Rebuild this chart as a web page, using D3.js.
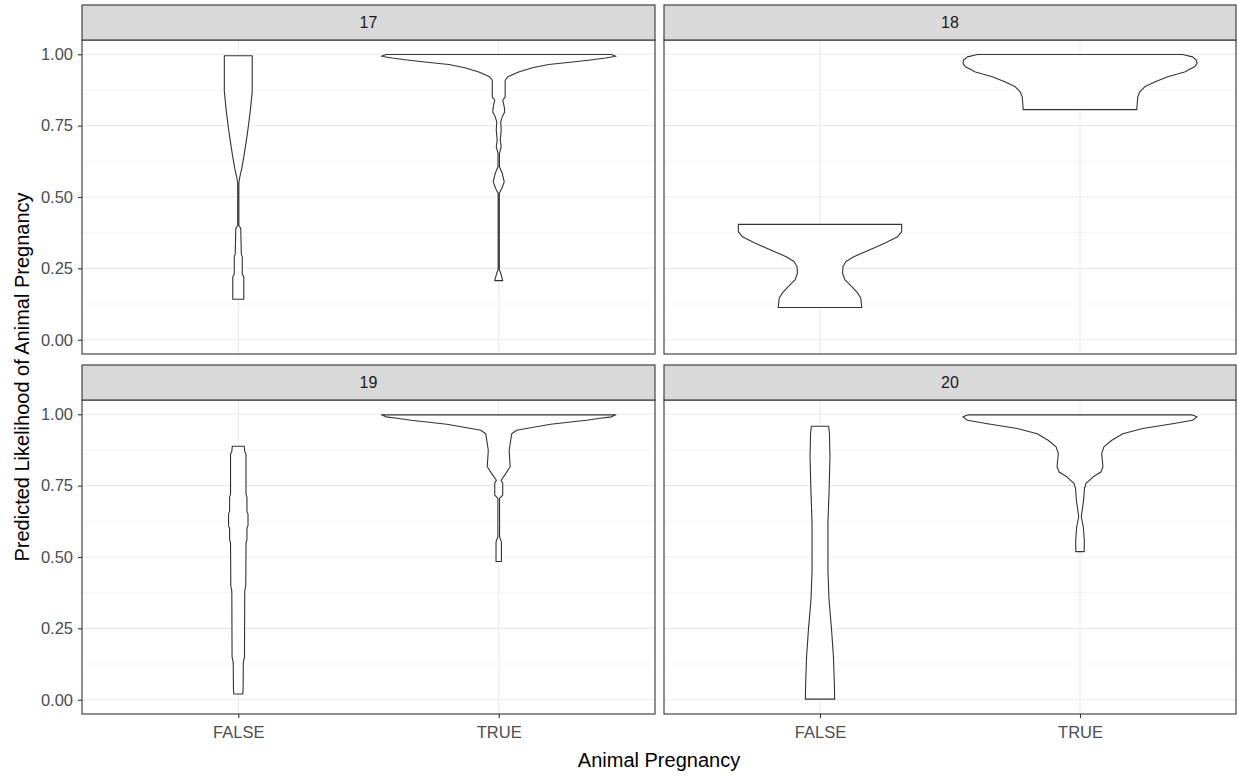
<!DOCTYPE html>
<html>
<head>
<meta charset="utf-8">
<script src="https://cdn.jsdelivr.net/npm/d3@7"></script>
<style>
    body { margin: 0; background: #fff; }
    text { font-family: "Liberation Sans", Arial, sans-serif; }
</style>
</head>
<body>
<svg id="chart"></svg>
<script>
// facet labels and categories
const facets = ["17", "18", "19", "20"];
const groups = ["FALSE", "TRUE"];
const yTicks = [0, 0.25, 0.5, 0.75, 1];

// violin outlines: [predicted likelihood, scaled density (1 = widest)]
const v17False = [[0.995, 0.119], [0.87, 0.119], [0.80, 0.102], [0.72, 0.077], [0.65, 0.051], [0.60, 0.030],
    [0.57, 0.013], [0.55, 0.005], [0.40, 0.005], [0.39, 0.021], [0.30, 0.026], [0.29, 0.034], [0.23, 0.034],
    [0.22, 0.047], [0.142, 0.047]];
const v17True = [[0.999, 0.96], [0.993, 1.0], [0.987, 0.911], [0.981, 0.80], [0.973, 0.63], [0.964, 0.426],
    [0.953, 0.289], [0.938, 0.170], [0.921, 0.077], [0.909, 0.055], [0.851, 0.055], [0.839, 0.034],
    [0.816, 0.047], [0.798, 0.051], [0.781, 0.030], [0.763, 0.017], [0.734, 0.021], [0.699, 0.013],
    [0.676, 0.021], [0.653, 0.006], [0.606, 0.006], [0.583, 0.030], [0.553, 0.047], [0.530, 0.026],
    [0.513, 0.005], [0.245, 0.005], [0.233, 0.017], [0.207, 0.034]];
const v18False = [[0.404, 0.698], [0.379, 0.698], [0.361, 0.664], [0.338, 0.553], [0.315, 0.426], [0.291, 0.289],
    [0.274, 0.221], [0.256, 0.196], [0.233, 0.193], [0.210, 0.213], [0.186, 0.272], [0.163, 0.323],
    [0.145, 0.349], [0.113, 0.357]];
const v18True = [[0.999, 0.877], [0.991, 0.962], [0.979, 0.996], [0.967, 1.0], [0.956, 0.979], [0.938, 0.894],
    [0.921, 0.749], [0.903, 0.638], [0.886, 0.553], [0.868, 0.511], [0.851, 0.494], [0.806, 0.485]];
const v19False = [[0.888, 0.051], [0.87, 0.055], [0.86, 0.066], [0.72, 0.066], [0.71, 0.074], [0.66, 0.074],
    [0.65, 0.083], [0.61, 0.083], [0.60, 0.074], [0.56, 0.074], [0.55, 0.066], [0.40, 0.064], [0.38, 0.055],
    [0.15, 0.053], [0.13, 0.043], [0.035, 0.041], [0.02, 0.038]];
const v19True = [[0.998, 1.0], [0.991, 0.962], [0.985, 0.851], [0.979, 0.749], [0.973, 0.613], [0.965, 0.443],
    [0.953, 0.272], [0.944, 0.153], [0.932, 0.111], [0.874, 0.089], [0.816, 0.098], [0.787, 0.051],
    [0.769, 0.020], [0.758, 0.034], [0.717, 0.034], [0.705, 0.007], [0.571, 0.007], [0.553, 0.023],
    [0.484, 0.023]];
const v20False = [[0.958, 0.074], [0.93, 0.081], [0.85, 0.085], [0.75, 0.079], [0.62, 0.068], [0.45, 0.068],
    [0.35, 0.077], [0.25, 0.098], [0.15, 0.115], [0.05, 0.123], [0.002, 0.125]];
const v20True = [[0.998, 0.953], [0.991, 1.0], [0.979, 0.962], [0.967, 0.791], [0.950, 0.536], [0.932, 0.366],
    [0.909, 0.272], [0.886, 0.204], [0.862, 0.185], [0.839, 0.191], [0.816, 0.196], [0.798, 0.179],
    [0.781, 0.113], [0.758, 0.051], [0.740, 0.038], [0.699, 0.031], [0.641, 0.011], [0.606, 0.028],
    [0.559, 0.037], [0.519, 0.036]];

const violins = [
    [v17False, v17True],
    [v18False, v18True],
    [v19False, v19True],
    [v20False, v20True]
];

const W = 1238, H = 776;
const svg = d3.select("#chart").attr("width", W).attr("height", H);

// panel boxes (plot area, strip above)
const cols = [[82, 655], [664, 1236]];
const rows = [[40, 354], [400, 714]];
const stripH = 35;

// discrete x: positions 1,2 with 0.6 expansion
const x = d3.scaleLinear().domain([0.4, 2.6]);
const y = d3.scaleLinear().domain([-0.05, 1.05]);
const halfMax = 0.45;

facets.forEach((f, i) => {
    const c = cols[i % 2], r = rows[Math.floor(i / 2)];
    x.range(c);
    y.range([r[1], r[0]]);

    const g = svg.append("g");

    // minor grid
    const minor = d3.range(0.125, 1, 0.25);
    g.selectAll(".minor").data(minor).enter().append("line")
        .attr("x1", c[0]).attr("x2", c[1])
        .attr("y1", d => y(d)).attr("y2", d => y(d))
        .style("stroke", "#F2F2F2").style("stroke-width", 0.8);

    // major grid
    g.selectAll(".majory").data(yTicks).enter().append("line")
        .attr("x1", c[0]).attr("x2", c[1])
        .attr("y1", d => y(d)).attr("y2", d => y(d))
        .style("stroke", "#EBEBEB").style("stroke-width", 1.1);
    g.selectAll(".majorx").data(groups).enter().append("line")
        .attr("x1", (d, k) => x(k + 1)).attr("x2", (d, k) => x(k + 1))
        .attr("y1", r[0]).attr("y2", r[1])
        .style("stroke", "#EBEBEB").style("stroke-width", 1.1);

    // violins
    violins[i].forEach((prof, k) => {
        const pos = k + 1;
        const right = prof.map(p => [x(pos + p[1] * halfMax), y(p[0])]);
        const left = prof.slice().reverse().map(p => [x(pos - p[1] * halfMax), y(p[0])]);
        g.append("path")
            .attr("d", d3.line()(right.concat(left)) + "Z")
            .style("fill", "white")
            .style("stroke", "#333333")
            .style("stroke-width", 1.1)
            .style("stroke-linejoin", "round");
    });

    // panel border
    g.append("rect")
        .attr("x", c[0]).attr("y", r[0])
        .attr("width", c[1] - c[0]).attr("height", r[1] - r[0])
        .style("fill", "none").style("stroke", "#333333").style("stroke-width", 1.1);

    // strip
    g.append("rect")
        .attr("x", c[0]).attr("y", r[0] - stripH)
        .attr("width", c[1] - c[0]).attr("height", stripH)
        .style("fill", "#D9D9D9").style("stroke", "#333333").style("stroke-width", 1.1);
    g.append("text")
        .attr("x", (c[0] + c[1]) / 2).attr("y", r[0] - stripH / 2)
        .attr("text-anchor", "middle").attr("dominant-baseline", "central")
        .style("font-size", "16px").style("fill", "#1A1A1A")
        .text(f);

    // y axis on left column
    if (i % 2 === 0) {
        const ya = g.append("g")
            .attr("transform", `translate(${c[0]},0)`)
            .call(d3.axisLeft(y).tickValues(yTicks).tickFormat(d3.format(".2f")).tickSize(4).tickPadding(5));
        ya.select(".domain").remove();
        ya.selectAll("line").style("stroke", "#333333").style("stroke-width", 1.1);
        ya.selectAll("text").style("font-size", "16.5px").style("fill", "#4D4D4D")
            .style("font-family", "Liberation Sans, Arial, sans-serif");
    }

    // x axis on bottom row
    if (i >= 2) {
        const xa = g.append("g")
            .attr("transform", `translate(0,${r[1]})`)
            .call(d3.axisBottom(x).tickValues([1, 2]).tickFormat(d => groups[d - 1]).tickSize(4).tickPadding(8));
        xa.select(".domain").remove();
        xa.selectAll("line").style("stroke", "#333333").style("stroke-width", 1.1);
        xa.selectAll("text").style("font-size", "16.5px").style("fill", "#4D4D4D")
            .style("font-family", "Liberation Sans, Arial, sans-serif");
    }
});

// axis titles
svg.append("text")
    .attr("x", (cols[0][0] + cols[1][1]) / 2).attr("y", 767)
    .attr("text-anchor", "middle")
    .style("font-size", "20px").style("fill", "black")
    .text("Animal Pregnancy");

svg.append("text")
    .attr("transform", `translate(29,${(rows[0][0] + rows[1][1]) / 2}) rotate(-90)`)
    .attr("text-anchor", "middle")
    .style("font-size", "20px").style("fill", "black")
    .text("Predicted Likelihood of Animal Pregnancy");
</script>
</body>
</html>
